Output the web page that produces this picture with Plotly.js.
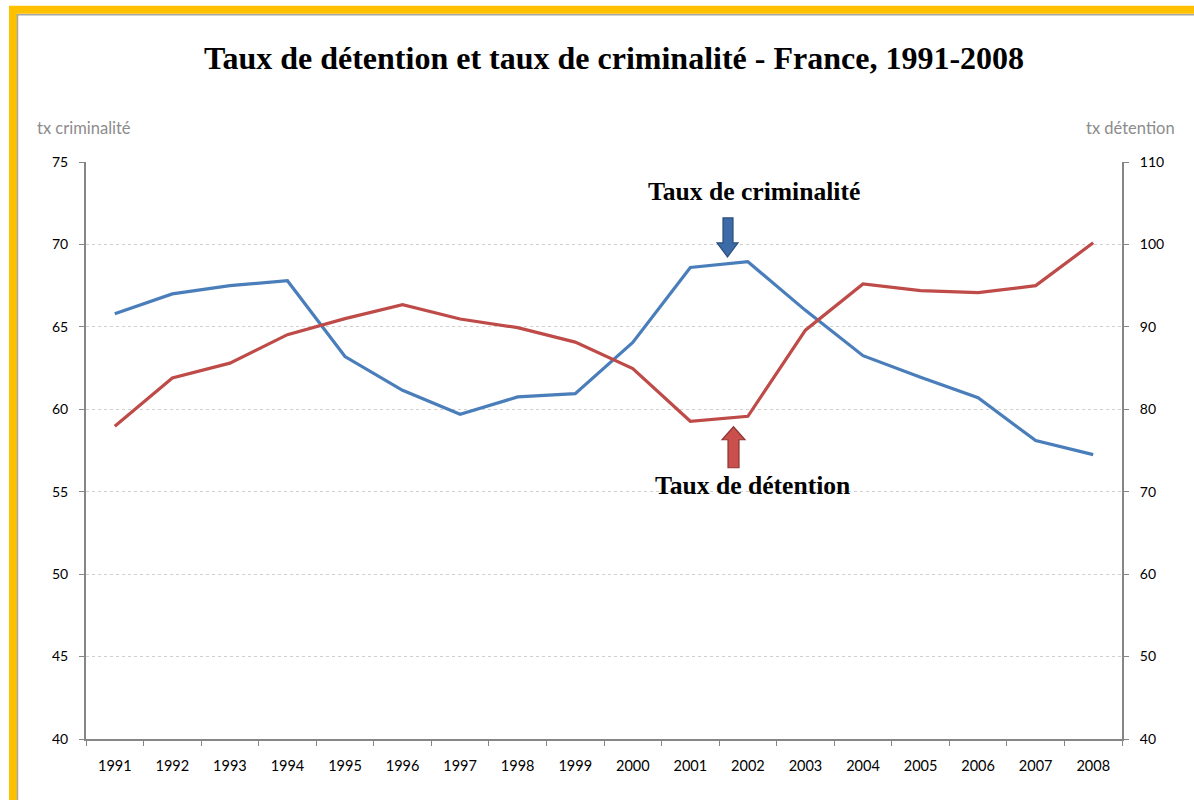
<!DOCTYPE html>
<html>
<head>
<meta charset="utf-8">
<script src="https://cdn.plot.ly/plotly-3.0.1.min.js"></script>
<style>
html,body{margin:0;padding:0;background:#fff;}
#chart{width:1194px;height:800px;}
</style>
</head>
<body>
<div id="chart"></div>
<script>
// ---- Data ----
const years = ["1991","1992","1993","1994","1995","1996","1997","1998","1999","2000","2001","2002","2003","2004","2005","2006","2007","2008"];
const crimeRate = [65.8,67.0,67.5,67.8,63.2,61.15,59.7,60.75,60.95,64.05,68.6,68.95,66.0,63.25,61.95,60.7,58.1,57.25];
const detentionRate = [77.95,83.8,85.6,89.05,91.0,92.7,90.95,89.9,88.15,84.95,78.55,79.15,89.6,95.2,94.4,94.15,95.0,100.2];
const leftTicks = [40,45,50,55,60,65,70,75];
const rightTicks = [40,50,60,70,80,90,100,110];

const titleText = "Taux de détention et taux de criminalité - France, 1991-2008";
const leftAxisLabel = "tx criminalité";
const rightAxisLabel = "tx détention";
const crimeLabel = "Taux de criminalité";
const detentionLabel = "Taux de détention";

// ---- Geometry helpers (plot area in pixels) ----
const W = 1194, H = 800;
const PL = 86, PR = 1122, PT = 162, PB = 739.5;
const px = x => (x - PL) / (PR - PL);
const py = y => (PB - y) / (PB - PT);
function pathFrom(points){
  return points.map((p,i)=>(i?'L':'M')+px(p[0]).toFixed(5)+','+py(p[1]).toFixed(5)).join(' ')+' Z';
}

const downArrow = pathFrom([[723,218],[733,218],[733,243],[738,243],[727.5,257],[717,243],[723,243]]);
const upArrow = pathFrom([[733.5,427],[745,440],[739,440],[739,468],[728,468],[728,440],[722,440]]);

const serif = "'Liberation Serif','Times New Roman',serif";
const sans = "Lato,'Open Sans',sans-serif";

const traces = [
  {x: years, y: crimeRate, type:'scatter', mode:'lines', name: crimeLabel,
   line:{color:'#4A7EBB', width:3.2}, yaxis:'y'},
  {x: years, y: detentionRate, type:'scatter', mode:'lines', name: detentionLabel,
   line:{color:'#BE4B48', width:3.2}, yaxis:'y2'}
];

const layout = {
  width: W, height: H,
  margin:{l:PL, r:W-PR, t:PT, b:H-PB},
  paper_bgcolor:'#ffffff', plot_bgcolor:'#ffffff',
  showlegend:false,
  title:{text:'<b>'+titleText+'</b>', font:{family:serif, size:32, color:'#000'},
         x:614/W, xref:'container', xanchor:'center', y:1-58/H, yref:'container', yanchor:'middle'},
  xaxis:{type:'category', range:[-0.5,17.5], tickson:'boundaries', ticks:'outside', ticklen:5,
         tickcolor:'#868686', tickwidth:1, showline:true, linecolor:'#868686', linewidth:2,
         showgrid:false, zeroline:false, tickfont:{family:sans, size:14.5, color:'#000'},
         ticklabelstandoff:13, fixedrange:true},
  yaxis:{range:[40,75], tickvals:leftTicks, ticks:'outside', ticklen:5, tickcolor:'#868686',
         showline:true, linecolor:'#868686', linewidth:2, showgrid:true, gridcolor:'#d0d0d0',
         griddash:'dot', gridwidth:1, zeroline:false, tickfont:{family:sans, size:14, color:'#000'},
         ticklabelstandoff:8},
  yaxis2:{range:[40,110], tickvals:rightTicks, overlaying:'y', side:'right', ticks:'outside',
          ticklen:5, tickcolor:'#868686', showline:true, linecolor:'#868686', linewidth:2,
          showgrid:false, zeroline:false, tickfont:{family:sans, size:14, color:'#000'},
          ticklabelstandoff:8},
  annotations:[
    {text:leftAxisLabel, xref:'paper', yref:'paper', x:px(35), y:py(128), xanchor:'left', yanchor:'middle',
     showarrow:false, font:{family:sans, size:16.5, color:'#8c8c8c'}},
    {text:rightAxisLabel, xref:'paper', yref:'paper', x:px(1177), y:py(128), xanchor:'right', yanchor:'middle',
     showarrow:false, font:{family:sans, size:16.5, color:'#8c8c8c'}},
    {text:'<b>'+crimeLabel+'</b>', xref:'paper', yref:'paper', x:px(754), y:py(192), xanchor:'center', yanchor:'middle',
     showarrow:false, font:{family:serif, size:25.6, color:'#000'}},
    {text:'<b>'+detentionLabel+'</b>', xref:'paper', yref:'paper', x:px(752.5), y:py(486), xanchor:'center', yanchor:'middle',
     showarrow:false, font:{family:serif, size:25.6, color:'#000'}}
  ],
  shapes:[
    {type:'rect', xref:'paper', yref:'paper', x0:px(13), x1:px(1260), y0:py(9.5), y1:py(900),
     line:{color:'#FFC000', width:8}, fillcolor:'rgba(0,0,0,0)', layer:'above'},
    {type:'rect', xref:'paper', yref:'paper', x0:px(17.5), x1:px(1260), y0:py(14.5), y1:py(900),
     line:{color:'#a6a6a6', width:1.5}, fillcolor:'rgba(0,0,0,0)', layer:'above'},
    {type:'path', xref:'paper', yref:'paper', path:downArrow, fillcolor:'#3D6BA8',
     line:{color:'#2B4E7D', width:1.2}, layer:'above'},
    {type:'path', xref:'paper', yref:'paper', path:upArrow, fillcolor:'#C9504D',
     line:{color:'#8E3533', width:1.2}, layer:'above'}
  ]
};

Plotly.newPlot('chart', traces, layout, {displayModeBar:false, staticPlot:true});
</script>
</body>
</html>
